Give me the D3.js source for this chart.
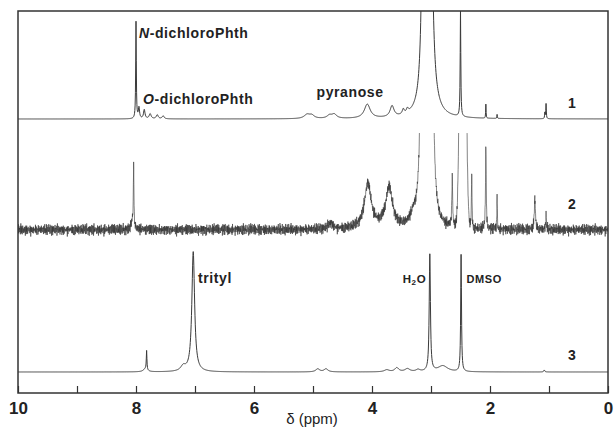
<!DOCTYPE html>
<html>
<head>
<meta charset="utf-8">
<script src="https://cdn.jsdelivr.net/npm/d3@7"></script>
<style>
  body { margin: 0; background: #fff; }
  text { font-family: "Liberation Sans", Arial, sans-serif; fill: #222; }
</style>
</head>
<body>
<div id="d3-container"></div>
<script>
// peaks: [ppm, height (px above baseline), half width (ppm), shape]
// shape "g" = gaussian, otherwise lorentzian
var peaks1 = [
  [8.00, 97, 0.006], [7.95, 11, 0.012], [7.86, 9, 0.015], [7.76, 5, 0.02],
  [7.64, 4, 0.02], [7.54, 3, 0.02],
  [5.10, 4, 0.06], [5.02, 3, 0.05], [4.72, 3, 0.05], [4.64, 4, 0.05],
  [4.08, 14, 0.06], [3.66, 11, 0.04],
  [3.47, 5, 0.02], [3.40, 4, 0.02],
  [3.12, 600, 0.02], [3.03, 900, 0.025],
  [2.50, 108, 0.006],
  [2.07, 14, 0.004], [1.88, 4, 0.004], [1.05, 15, 0.005], [1.07, 6, 0.005]
];
var peaks2 = [
  [8.04, 58, 0.006], [8.06, 8, 0.03],
  [4.70, 6, 0.05],
  [4.07, 45, 0.07], [3.71, 40, 0.07], [3.30, 8, 0.06],
  [3.14, 500, 0.025], [3.00, 500, 0.025],
  [2.64, 50, 0.008],
  [2.46, 600, 0.037, "g"],
  [2.31, 55, 0.006],
  [2.07, 84, 0.007],
  [1.88, 30, 0.005],
  [1.24, 30, 0.012],
  [1.05, 13, 0.008]
];
var peaks3 = [
  [7.82, 19, 0.006], [7.84, 3, 0.04],
  [7.20, 5, 0.05],
  [7.03, 120, 0.028],
  [4.92, 3, 0.04], [4.78, 3, 0.04], [3.75, 2, 0.05], [3.58, 4, 0.04],
  [3.40, 3, 0.05], [3.22, 2, 0.04],
  [3.02, 117, 0.012], [2.80, 6, 0.1],
  [2.49, 117, 0.008],
  [1.08, 2, 0.01]
];

// baseline noise of trace 2 (px), two hand-read runs of different length
var noiseA = [2, -3, 4, -1, -4, 3, 1, -2, 5, -3, 0, 3, -5, 2, -1, 4, -2, -4, 1, 3, -3, 2, -1, 5, -2, -4, 3, 0, -3, 4, -1];
var noiseB = [-1, 2, -2, 1, 3, -3, 0, 2, -1, -2, 3, 1, -3, 2, 0, -2, 1, 3, -1, -3, 2, -1, 1, -2, 3, 0, -1, 2, -3, 1, -2, 2, 0, -1, 3, -2, 1];

var ppmTicks = [10, 9, 8, 7, 6, 5, 4, 3, 2, 1, 0];
var traceNames = ["1", "2", "3"];

var width = 614, height = 434;
var margin = { top: 11, right: 6, bottom: 41, left: 18 };
var baselines = [119, 230, 372];

var svg = d3.select('#d3-container')
  .append('svg')
  .attr('width', width)
  .attr('height', height);

var x = d3.scaleLinear()
  .domain([10, 0])
  .range([margin.left, width - margin.right]);

// sum of line shapes at a given shift
function intensity(peaks, ppm) {
  var s = 0;
  peaks.forEach(function (p) {
    var d = (ppm - p[0]) / p[2];
    if (p[3] === "g") s += p[1] * Math.exp(-0.5 * d * d);
    else s += p[1] / (1 + d * d);
  });
  return s;
}

function trace(peaks, step, noisy) {
  var grid = d3.range(0, 10.0001, step).concat(peaks.map(p => p[0]));
  grid.sort(d3.ascending);
  return grid.map(function (ppm, i) {
    var v = intensity(peaks, ppm);
    if (noisy) v += 0.9 * noiseA[i % noiseA.length] + 0.7 * noiseB[i % noiseB.length];
    return [ppm, v];
  });
}

var traces = [trace(peaks1, 0.005, false), trace(peaks2, 0.004, true), trace(peaks3, 0.005, false)];
var clipTops = [margin.top, 133, margin.top];

traces.forEach(function (data, k) {
  var y = d3.scaleLinear().domain([0, 100]).range([baselines[k], baselines[k] - 100]);
  svg.append("clipPath").attr("id", "clip" + k)
    .append("rect")
    .attr("x", margin.left).attr("y", clipTops[k])
    .attr("width", width - margin.left - margin.right)
    .attr("height", height - margin.bottom - clipTops[k]);
  svg.append("path")
    .datum(data)
    .attr("clip-path", "url(#clip" + k + ")")
    .attr("fill", "none")
    .attr("stroke", k === 1 ? "#333" : "#3a3a3a")
    .attr("stroke-width", k === 1 ? 0.6 : 1)
    .attr("d", d3.line().x(d => x(d[0])).y(d => y(d[1])));
  svg.append("text")
    .attr("x", 572).attr("y", [108, 209, 360][k])
    .attr("text-anchor", "middle")
    .attr("font-weight", "bold").attr("font-size", "14px")
    .text(traceNames[k]);
});

// frame
svg.append("rect")
  .attr("x", margin.left).attr("y", margin.top)
  .attr("width", width - margin.left - margin.right)
  .attr("height", height - margin.top - margin.bottom)
  .attr("fill", "none").attr("stroke", "#333").attr("stroke-width", 1.5);

// x axis, ticks pointing inward
var axis = svg.append("g")
  .attr("transform", `translate(0, ${height - margin.bottom})`)
  .call(d3.axisBottom(x).tickValues(ppmTicks).tickSizeInner(-7).tickSizeOuter(0).tickPadding(9)
    .tickFormat(d => d % 2 === 0 ? d : ""));
axis.select(".domain").remove();
axis.selectAll("line").attr("stroke", "#333").attr("stroke-width", 1.2);
axis.selectAll("text")
  .attr("font-family", '"Liberation Sans", Arial, sans-serif')
  .attr("font-size", "17px").attr("font-weight", "bold").attr("fill", "#222");

svg.append("text")
  .attr("x", 312).attr("y", 424)
  .attr("text-anchor", "middle").attr("font-size", "15px")
  .text("δ (ppm)");

// annotations
function label(px, py, size) {
  return svg.append("text")
    .attr("x", px).attr("y", py)
    .attr("font-weight", "bold").attr("font-size", size + "px")
    .attr("letter-spacing", "0.6px");
}
var t1 = label(x(7.95), 38, 14);
t1.append("tspan").attr("font-style", "italic").text("N");
t1.append("tspan").text("-dichloroPhth");
var t2 = label(x(7.88), 104, 14);
t2.append("tspan").attr("font-style", "italic").text("O");
t2.append("tspan").text("-dichloroPhth");
label(x(4.94), 97, 14).text("pyranose");
label(x(6.95), 283, 14).text("trityl");
var t3 = label(x(3.48), 283, 11.5);
t3.append("tspan").text("H");
t3.append("tspan").attr("font-size", "8px").attr("dy", 2).text("2");
t3.append("tspan").attr("dy", -2).text("O");
label(x(2.40), 283, 11).text("DMSO");
</script>
</body>
</html>
